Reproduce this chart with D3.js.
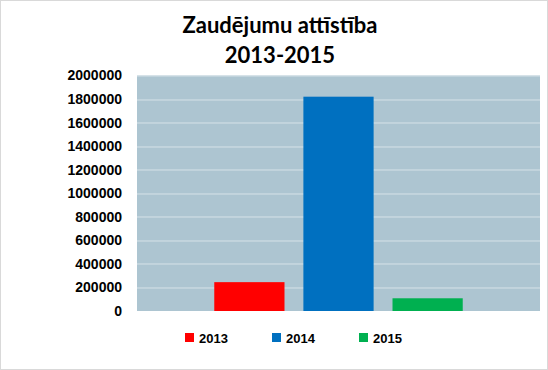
<!DOCTYPE html>
<html lang="lv">
<head>
<meta charset="UTF-8">
<title>Zaudējumu attīstība 2013-2015</title>
<style>
    body { margin: 0; background: #fff; }
    svg { display: block; }
    .tick text { font-family: "Liberation Sans", Arial, sans-serif; font-weight: bold; font-size: 14px; fill: #000; }
</style>
</head>
<body>
<svg id="chart" width="548" height="370"></svg>
<script src="https://d3js.org/d3.v7.min.js"></script>
<script>
    // dati
    const categories = [""];
    const seriesNames = ["2013", "2014", "2015"];
    const seriesValues = [245000, 1820000, 108000];
    const seriesColors = ["#ff0000", "#0070c0", "#00b050"];
    const yTicks = [0, 200000, 400000, 600000, 800000, 1000000, 1200000, 1400000, 1600000, 1800000, 2000000];

    const svg = d3.select("#chart");
    const W = 548, H = 370;
    const margin = { top: 75.5, right: 8, bottom: 59, left: 137 };
    const w = W - margin.left - margin.right;
    const h = H - margin.top - margin.bottom;

    // rāmis
    svg.append("rect")
        .attr("x", 0.5).attr("y", 0.5)
        .attr("width", W - 1).attr("height", H - 1)
        .attr("fill", "#fff").attr("stroke", "#d9d9d9");

    // virsraksts
    const title = svg.append("text")
        .attr("text-anchor", "middle")
        .attr("font-family", "Lato, 'Open Sans', sans-serif")
        .attr("font-weight", "bold")
        .attr("font-size", 22)
        .attr("fill", "#000");
    title.append("tspan").attr("x", 280).attr("y", 33).text("Zaudējumu attīstība");
    title.append("tspan").attr("x", 280).attr("y", 63).text("2013-2015");

    const g = svg.append("g").attr("transform", `translate(${margin.left},${margin.top})`);

    const y = d3.scaleLinear().domain([0, 2000000]).range([h, 0]);
    const x0 = d3.scaleBand().domain(categories).range([0, w]).paddingInner(0).paddingOuter(0.311);
    const x1 = d3.scaleBand().domain(seriesNames).range([0, x0.bandwidth()]).paddingInner(0.212).paddingOuter(0);

    g.append("rect").attr("width", w).attr("height", h).attr("fill", "#adc5d1");

    // režģis
    g.append("g")
        .selectAll("line")
        .data(yTicks.filter(d => d > 0))
        .join("line")
        .attr("x1", 0).attr("x2", w)
        .attr("y1", d => Math.round(y(d)) + 0.5).attr("y2", d => Math.round(y(d)) + 0.5)
        .attr("stroke", "#d6e2e8").attr("stroke-width", 1);

    // stabiņi
    g.append("g")
        .selectAll("rect")
        .data(seriesNames.map((s, i) => ({ cat: categories[0], s, v: seriesValues[i], c: seriesColors[i] })))
        .join("rect")
        .attr("x", d => x0(d.cat) + x1(d.s))
        .attr("y", d => y(d.v))
        .attr("width", x1.bandwidth())
        .attr("height", d => h - y(d.v))
        .attr("fill", d => d.c);

    // y ass
    const yAxis = g.append("g")
        .call(d3.axisLeft(y).tickValues(yTicks).tickSize(0).tickPadding(15).tickFormat(d3.format("d")));
    yAxis.select(".domain").remove();

    // leģenda
    const legend = svg.append("g");
    const items = legend.selectAll("g")
        .data(seriesNames)
        .join("g")
        .attr("transform", (d, i) => `translate(${185 + i * 87},333)`);
    items.append("rect")
        .attr("width", 9).attr("height", 9)
        .attr("fill", (d, i) => seriesColors[i]);
    items.append("text")
        .attr("x", 14).attr("y", 9.5)
        .attr("font-family", "'Liberation Sans', Arial, sans-serif")
        .attr("font-weight", "bold")
        .attr("font-size", 13)
        .text(d => d);
</script>
</body>
</html>
